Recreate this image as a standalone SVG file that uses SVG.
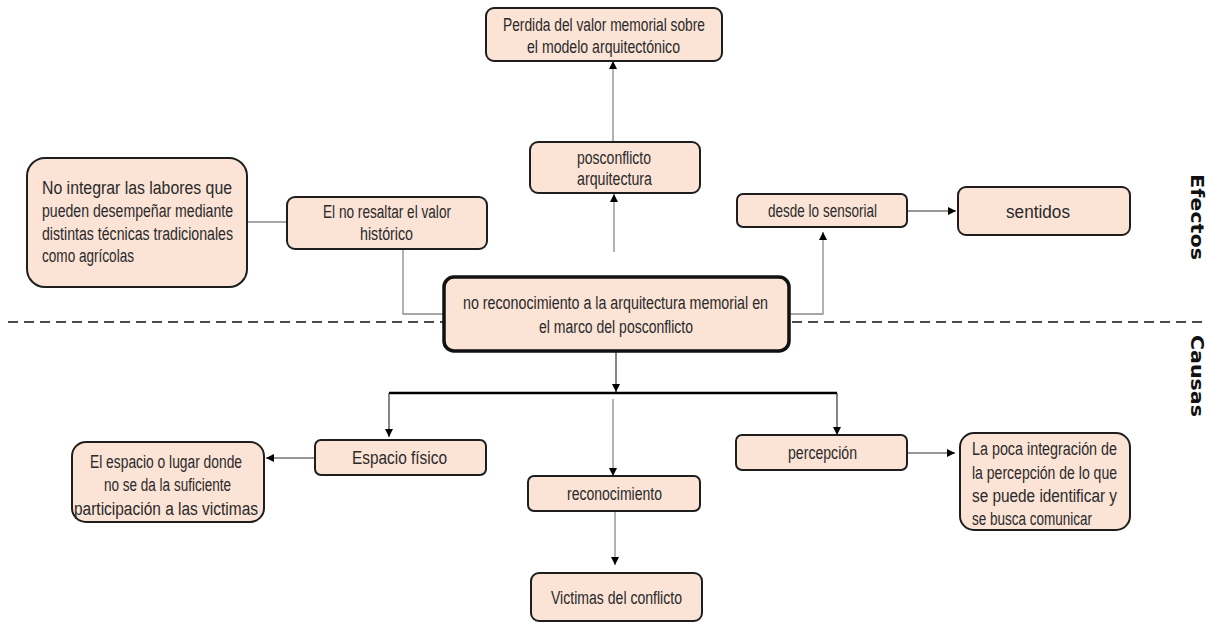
<svg xmlns="http://www.w3.org/2000/svg" width="1209" height="624" viewBox="0 0 1209 624">
<defs>
<marker id="arr" viewBox="0 0 10 10" refX="10" refY="5" markerWidth="8" markerHeight="8" markerUnits="userSpaceOnUse" orient="auto">
<path d="M0,0 L10,5 L0,10 z" fill="#000"/>
</marker>
<style>
.box{fill:#FBE3D6;stroke:#1e1e1e;stroke-width:2}
.main{fill:#FBE3D6;stroke:#111;stroke-width:3.5}
.t{font-family:"Liberation Sans Narrow","Liberation Sans",Arial,sans-serif;font-size:18px;fill:#2a2a2a}
.lbl{font-family:"DejaVu Sans",Verdana,sans-serif;font-weight:bold;font-size:18px;fill:#111}
.ln{fill:none;stroke:#8a8a8a;stroke-width:1.3}
.ld{fill:none;stroke:#333;stroke-width:1.2}
.bus{fill:none;stroke:#000;stroke-width:2.5}
.dash{fill:none;stroke:#111;stroke-width:1.5;stroke-dasharray:10 6}
</style>
</defs>
<rect width="1209" height="624" fill="#fff"/>

<path class="dash" d="M8,322 H1204"/>
<text class="lbl" transform="translate(1191,217) rotate(90)" text-anchor="middle" textLength="86" lengthAdjust="spacingAndGlyphs">Efectos</text>
<text class="lbl" transform="translate(1191,376) rotate(90)" text-anchor="middle" textLength="82" lengthAdjust="spacingAndGlyphs">Causas</text>

<g id="connectors">
<path class="ln" d="M613,142 V61" marker-end="url(#arr)"/>
<path class="ln" d="M614,252 V194" marker-end="url(#arr)"/>
<path class="ln" d="M247,222 H287"/>
<path class="ln" d="M403,249 V314 H444"/>
<path class="ln" d="M789,314 H823 V232" marker-end="url(#arr)"/>
<path class="ld" d="M907,211 H956" marker-end="url(#arr)"/>
<path class="ld" d="M616,352 V392" marker-end="url(#arr)"/>
<path class="bus" d="M389,393 H837"/>
<path class="ld" d="M389,393 V437" marker-end="url(#arr)"/>
<path class="ld" d="M837,393 V435" marker-end="url(#arr)"/>
<path class="ln" d="M613,399 V476" marker-end="url(#arr)"/>
<path class="ld" d="M315,458 H266" marker-end="url(#arr)"/>
<path class="ld" d="M907,453 H955" marker-end="url(#arr)"/>
<path class="ln" d="M615,511 V565" marker-end="url(#arr)"/>
</g>

<g id="n-perdida">
<rect class="box" x="486" y="8" width="236" height="53" rx="8"/>
<text class="t" x="503" y="31" textLength="202" lengthAdjust="spacingAndGlyphs">Perdida del valor memorial sobre</text>
<text class="t" x="527" y="53" textLength="153" lengthAdjust="spacingAndGlyphs">el modelo arquitectónico</text>
</g>

<g id="n-posconflicto">
<rect class="box" x="530" y="142" width="170" height="51" rx="8"/>
<text class="t" x="577" y="164" textLength="74" lengthAdjust="spacingAndGlyphs">posconflicto</text>
<text class="t" x="577" y="185" textLength="75" lengthAdjust="spacingAndGlyphs">arquitectura</text>
</g>

<g id="n-nointegrar">
<rect class="box" x="27" y="158" width="220" height="129" rx="18"/>
<text class="t" x="42" y="194" textLength="190" lengthAdjust="spacingAndGlyphs">No integrar las labores que</text>
<text class="t" x="42" y="217" textLength="191" lengthAdjust="spacingAndGlyphs">pueden desempeñar mediante</text>
<text class="t" x="42" y="240" textLength="191" lengthAdjust="spacingAndGlyphs">distintas técnicas tradicionales</text>
<text class="t" x="42" y="262" textLength="92" lengthAdjust="spacingAndGlyphs">como agrícolas</text>
</g>

<g id="n-resaltar">
<rect class="box" x="287" y="197" width="200" height="52" rx="8"/>
<text class="t" x="323" y="218" textLength="128" lengthAdjust="spacingAndGlyphs">El no resaltar el valor</text>
<text class="t" x="360" y="240" textLength="53" lengthAdjust="spacingAndGlyphs">histórico</text>
</g>

<g id="n-sensorial">
<rect class="box" x="737" y="194" width="170" height="33" rx="6"/>
<text class="t" x="768" y="217" textLength="109" lengthAdjust="spacingAndGlyphs">desde lo sensorial</text>
</g>

<g id="n-sentidos">
<rect class="box" x="958" y="187" width="172" height="48" rx="8"/>
<text class="t" x="1006" y="218" textLength="64" lengthAdjust="spacingAndGlyphs">sentidos</text>
</g>

<g id="n-central">
<rect class="main" x="444" y="277" width="345" height="74" rx="10"/>
<text class="t" x="463" y="309" textLength="305" lengthAdjust="spacingAndGlyphs">no reconocimiento a la arquitectura memorial  en</text>
<text class="t" x="539" y="333" textLength="154" lengthAdjust="spacingAndGlyphs">el marco del posconflicto</text>
</g>

<g id="n-espacio">
<rect class="box" x="315" y="440" width="171" height="35" rx="6"/>
<text class="t" x="352" y="464" textLength="95" lengthAdjust="spacingAndGlyphs">Espacio físico</text>
</g>

<g id="n-lugar">
<rect class="box" x="72" y="442" width="192" height="80" rx="14"/>
<text class="t" x="90" y="468" textLength="152" lengthAdjust="spacingAndGlyphs">El espacio o lugar donde</text>
<text class="t" x="104" y="491" textLength="127" lengthAdjust="spacingAndGlyphs">no se da la suficiente</text>
<text class="t" x="74" y="515" textLength="184" lengthAdjust="spacingAndGlyphs">participación a las victimas</text>
</g>

<g id="n-percepcion">
<rect class="box" x="736" y="435" width="171" height="35" rx="6"/>
<text class="t" x="788" y="459" textLength="69" lengthAdjust="spacingAndGlyphs">percepción</text>
</g>

<g id="n-poca">
<rect class="box" x="960" y="433" width="170" height="97" rx="14"/>
<text class="t" x="972" y="455" textLength="145" lengthAdjust="spacingAndGlyphs">La poca integración de</text>
<text class="t" x="972" y="479" textLength="145" lengthAdjust="spacingAndGlyphs">la percepción de lo que</text>
<text class="t" x="972" y="502" textLength="145" lengthAdjust="spacingAndGlyphs">se puede identificar y</text>
<text class="t" x="972" y="525" textLength="120" lengthAdjust="spacingAndGlyphs">se busca comunicar</text>
</g>

<g id="n-reconocimiento">
<rect class="box" x="528" y="476" width="172" height="35" rx="6"/>
<text class="t" x="567" y="500" textLength="95" lengthAdjust="spacingAndGlyphs">reconocimiento</text>
</g>

<g id="n-victimas">
<rect class="box" x="531" y="573" width="171" height="48" rx="8"/>
<text class="t" x="551" y="604" textLength="131" lengthAdjust="spacingAndGlyphs">Victimas del conflicto</text>
</g>
</svg>
